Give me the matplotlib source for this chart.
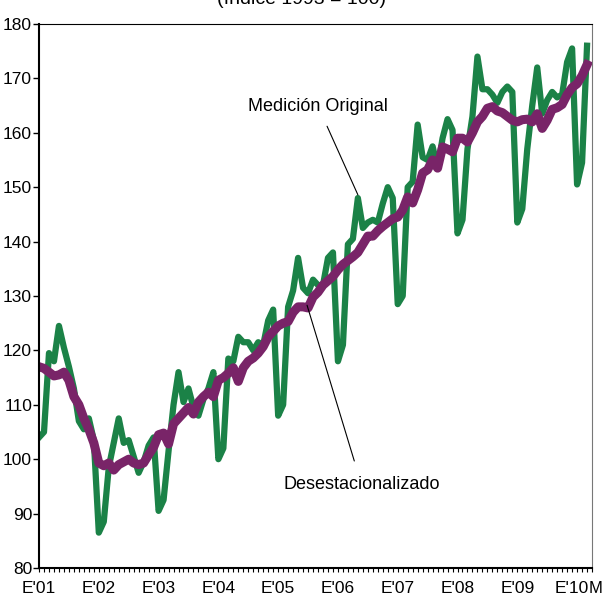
import numpy as np
import matplotlib
matplotlib.use("Agg")
import matplotlib.pyplot as plt
from matplotlib.ticker import MultipleLocator

plt.rcParams['font.family'] = ['Liberation Sans Narrow', 'Liberation Sans', 'DejaVu Sans']

# monthly index, Jan 2001 .. Mar 2010
original = [104, 105, 119.5, 118, 124.5, 120.5, 117, 113, 107, 105.5, 107.5, 103.5,
            86.5, 88.5, 98.5, 103, 107.5, 103, 103.5, 100.5, 97.5, 99.5, 102.5, 104,
            90.5, 92.5, 101.5, 110, 116, 110.5, 113, 109.5, 108, 111, 113, 116,
            100, 102, 118.5, 118, 122.5, 121.5, 121.5, 120, 121.5, 121, 125.5, 127.5,
            108, 110, 128, 131, 137, 131.5, 130.5, 133, 132, 132, 137, 138,
            118, 121, 139.5, 140.5, 148, 142.5, 143.5, 144, 143.5, 147, 150, 148,
            128.5, 130, 150, 151, 161.5, 155.5, 155, 157.5, 153.5, 159, 162.5, 160.5,
            141.5, 144, 157, 163, 174, 168, 168, 167, 165.5, 167.5, 168.5, 167.5,
            143.5, 146, 157, 165, 172, 163.5, 166, 167.5, 166.5, 167, 173, 175.5,
            150.5, 154.5, 176]

desest = [117, 116.7, 116, 115.3, 115.5, 116, 114.5, 111.5, 110, 107.5, 105.5, 103,
          99.3, 98.8, 99.3, 98, 99, 99.5, 100, 99.3, 99, 99.3, 100.8, 102.2,
          104.5, 104.8, 102.8, 106.5, 107.5, 108.5, 109.5, 108.3, 110.5, 111.5, 112.3, 111.5,
          114.5, 115, 115.8, 116.8, 114.3, 116.8, 118, 118.6, 119.5, 120.7, 122.5, 123.5,
          124.5, 125, 125.3, 127, 128, 128, 127.8, 129.8, 130.7, 132, 132.8, 133.6,
          134.8, 135.8, 136.5, 137.2, 138, 139.5, 141, 141, 142, 142.8, 143.5, 144.2,
          144.5, 145.8, 148.2, 147.1, 149.5, 152.6, 153.2, 155, 153.5, 157.4, 157, 156.5,
          159, 159, 158.3, 160, 162, 163, 164.5, 164.8, 164, 163.7, 163, 162.3,
          162, 162.4, 162.5, 162, 163.5, 160.8, 162.3, 164.3, 164.6, 165.2, 167, 168.3,
          169, 170.5, 172.5]

year_labels = ["E'01", "E'02", "E'03", "E'04", "E'05", "E'06", "E'07", "E'08", "E'09", "E'10"]

months = np.arange(len(original))

fig = plt.figure(figsize=(6.03, 6.14), dpi=100)
ax = fig.add_axes([0.0647, 0.0749, 0.9171, 0.8861])

ax.plot(months, original, color='#1b8247', lw=4.5, solid_joinstyle='round')
ax.plot(months, desest, color='#792468', lw=6.5, solid_joinstyle='round')

ax.set_xlim(0, 111)
ax.set_ylim(80, 180)
ax.set_yticks(np.arange(80, 181, 10))
ax.set_xticks(np.arange(0, 109, 12))
# last year label drawn by hand below, so the trailing "M" fits
ax.set_xticklabels(year_labels[:-1] + [""])
ax.xaxis.set_minor_locator(MultipleLocator(1))
ax.tick_params(axis='y', direction='out', length=4, width=1, labelsize=12.5, pad=1)
ax.tick_params(axis='x', which='both', direction='out', length=3, width=0.8, labelsize=12.5, pad=6)

ax.annotate(year_labels[-1], xy=(107.0, 0), xycoords=ax.get_xaxis_transform(),
            xytext=(0, -9), textcoords='offset points', ha='center', va='top',
            fontsize=12.5, annotation_clip=False)
ax.annotate("M", xy=(0.999, 0), xycoords=('figure fraction', 'axes fraction'),
            xytext=(0, -9), textcoords='offset points', ha='right', va='top',
            fontsize=12, annotation_clip=False)

for s in ['left', 'bottom']:
    ax.spines[s].set_linewidth(1.5)
ax.spines['top'].set_linewidth(0.8)
ax.spines['right'].set_linewidth(0.8)
ax.spines['right'].set_color('#777777')

ax.annotate("Medición Original", xy=(64, 148.6), xytext=(56, 164.9),
            ha='center', va='center', fontsize=13,
            arrowprops=dict(arrowstyle='-', color='black', lw=0.8, shrinkA=7, shrinkB=0))
ax.annotate("Desestacionalizado", xy=(53.8, 128.3), xytext=(64.7, 95.4),
            ha='center', va='center', fontsize=13,
            arrowprops=dict(arrowstyle='-', color='black', lw=0.8, shrinkA=9, shrinkB=0))

fig.text(0.5, 1.0, "(índice 1993 = 100)", ha='center', va='center', fontsize=14)

fig.savefig("out.png", dpi=100)
